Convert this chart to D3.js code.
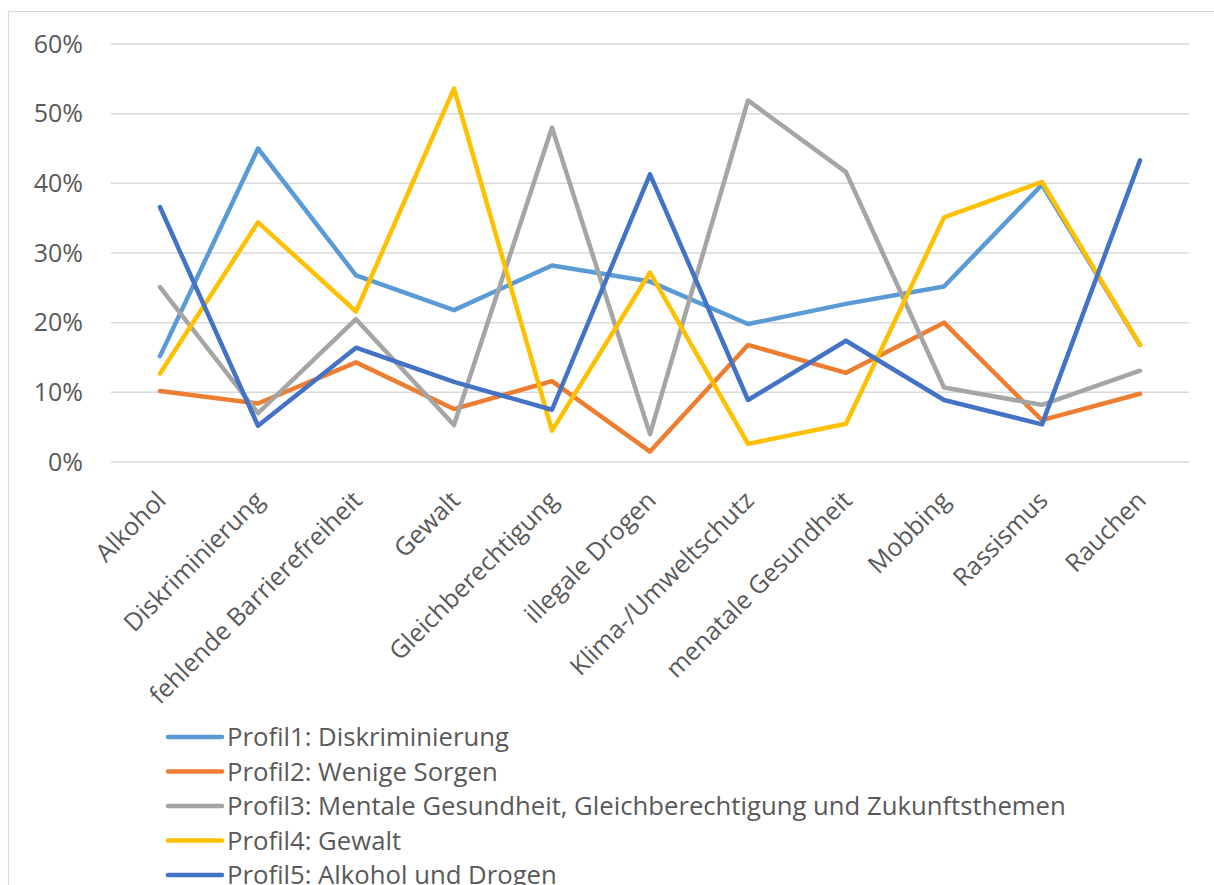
<!DOCTYPE html>
<html lang="de">
<head>
  <meta charset="UTF-8">
  <title>Profile</title>
  <style>
    body { margin: 0; background: #fff; }
    svg { display: block; font-family: "Open Sans", sans-serif; }
    .grid line { stroke: #d9d9d9; stroke-width: 1.5; }
    .tick-label { fill: #595959; }
    .series { fill: none; stroke-width: 4.5; stroke-linejoin: round; stroke-linecap: round; }
  </style>
</head>
<body>
  <svg id="chart" width="1214" height="885"></svg>
  <script src="https://d3js.org/d3.v7.min.js"></script>
  <script>
    const categories = ['Alkohol', 'Diskriminierung', 'fehlende Barrierefreiheit', 'Gewalt',
      'Gleichberechtigung', 'illegale Drogen', 'Klima-/Umweltschutz', 'menatale Gesundheit',
      'Mobbing', 'Rassismus', 'Rauchen'];

    const profil1 = [15.2, 45.0, 26.8, 21.8, 28.2, 25.9, 19.8, 22.7, 25.2, 39.8, 16.8];
    const profil2 = [10.2, 8.4, 14.3, 7.6, 11.6, 1.5, 16.8, 12.8, 20.0, 6.0, 9.8];
    const profil3 = [25.1, 7.0, 20.5, 5.3, 48.0, 4.0, 51.9, 41.6, 10.7, 8.2, 13.1];
    const profil4 = [12.7, 34.4, 21.6, 53.6, 4.5, 27.2, 2.6, 5.5, 35.1, 40.2, 16.8];
    const profil5 = [36.6, 5.2, 16.4, 11.5, 7.5, 41.3, 8.9, 17.4, 8.9, 5.4, 43.3];

    const seriesNames = ['Profil1: Diskriminierung', 'Profil2: Wenige Sorgen',
      'Profil3: Mentale Gesundheit, Gleichberechtigung und Zukunftsthemen',
      'Profil4: Gewalt', 'Profil5: Alkohol und Drogen'];
    const seriesColors = ['#5b9bd5', '#ed7d31', '#a5a5a5', '#ffc000', '#4472c4'];
    const yTicks = [0, 10, 20, 30, 40, 50, 60];

    const series = [profil1, profil2, profil3, profil4, profil5].map((values, i) => ({
      name: seriesNames[i], color: seriesColors[i], values: values
    }));

    const plot = { left: 111, right: 1189, top: 44, bottom: 462 };

    const svg = d3.select('#chart');

    // chart frame
    svg.append('rect')
      .attr('x', 8.5).attr('y', 11.5)
      .attr('width', 1220).attr('height', 900)
      .attr('fill', 'none').attr('stroke', '#d9d9d9').attr('stroke-width', 1.2);

    const x = d3.scalePoint()
      .domain(categories)
      .range([plot.left, plot.right])
      .padding(0.5);

    const y = d3.scaleLinear()
      .domain([0, 60])
      .range([plot.bottom, plot.top]);

    // gridlines
    svg.append('g')
      .attr('class', 'grid')
      .selectAll('line')
      .data(yTicks)
      .join('line')
      .attr('x1', plot.left).attr('x2', plot.right)
      .attr('y1', d => y(d)).attr('y2', d => y(d));

    // y axis labels
    const yAxis = svg.append('g')
      .attr('transform', `translate(${plot.left}, 0)`)
      .call(d3.axisLeft(y).tickValues(yTicks).tickFormat(d => d + '%').tickSize(0).tickPadding(28));
    yAxis.select('.domain').remove();
    yAxis.selectAll('text')
      .attr('class', 'tick-label')
      .style('font-family', '"Open Sans", sans-serif')
      .style('font-size', '25px');

    // x axis labels
    const xAxis = svg.append('g')
      .attr('transform', `translate(0, ${plot.bottom})`)
      .call(d3.axisBottom(x).tickSize(0).tickPadding(0));
    xAxis.select('.domain').remove();
    xAxis.selectAll('text')
      .attr('class', 'tick-label')
      .style('font-family', '"Open Sans", sans-serif')
      .style('font-size', '25px')
      .attr('text-anchor', 'end')
      .attr('dy', 0)
      .attr('y', 0)
      .attr('transform', 'translate(7, 40) rotate(-45)');

    // lines
    const line = d3.line()
      .x((d, i) => x(categories[i]))
      .y(d => y(d));

    svg.append('g')
      .selectAll('path')
      .data(series)
      .join('path')
      .attr('class', 'series')
      .attr('stroke', d => d.color)
      .attr('d', d => line(d.values));

    // legend
    const legend = svg.append('g')
      .selectAll('g')
      .data(series)
      .join('g')
      .attr('transform', (d, i) => `translate(168, ${737 + i * 34.5})`);

    legend.append('line')
      .attr('x1', 0).attr('x2', 54)
      .attr('stroke', d => d.color)
      .attr('stroke-width', 4.5)
      .attr('stroke-linecap', 'round');

    legend.append('text')
      .attr('class', 'tick-label')
      .attr('x', 59)
      .attr('dy', '0.35em')
      .style('font-size', '25.7px')
      .text(d => d.name);
  </script>
</body>
</html>
